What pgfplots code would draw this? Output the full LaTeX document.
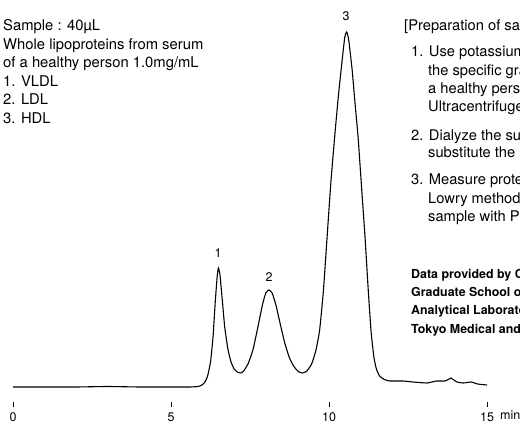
\documentclass[border=0pt]{standalone}
\usepackage{pgfplots}
\pgfplotsset{compat=1.18}
\usepackage{fontspec}
\setmainfont{TeX Gyre Heros}
\newcommand{\mainf}{\fontsize{14.8}{18}\selectfont}
\newcommand{\rightf}{\fontsize{14.7}{18}\selectfont}
\newcommand{\tickf}{\fontsize{12.5}{14}\selectfont}
\newcommand{\boldf}{\fontsize{12.4}{15}\selectfont\bfseries}
\begin{document}
\begin{tikzpicture}[x=1pt,y=1pt]
\useasboundingbox (0,0) rectangle (520,425);
\clip (0,0) rectangle (520,425);
\begin{axis}[at={(13pt,23pt)}, anchor=south west, scale only axis,
  width=474pt, height=375pt, xmin=0, xmax=15, ymin=-15, ymax=360,
  hide y axis, axis x line*=bottom, x axis line style={draw=none},
  xtick={0,5,10,15}, major tick length=5pt, tick align=outside,
  xtick style={black, line width=0.8pt},
  xticklabel style={font=\tickf, text=black, yshift=-2.5pt},
  /pgf/number format/assume math mode=true, clip=false]
\addplot[black, line width=1.1pt, smooth, tension=0.3] coordinates {
(0,0) (1,0) (2,0) (3,0.5) (4,0) (5,0) (5.6,0) (5.85,0.5) (5.95,1.5)
(6.05,4) (6.15,10) (6.25,25) (6.33,50) (6.4,85) (6.46,110) (6.5,119)
(6.55,112) (6.62,88) (6.7,60) (6.8,38) (6.9,25) (7.0,18) (7.1,15) (7.2,14)
(7.3,16) (7.45,24) (7.6,38) (7.75,60) (7.9,83) (8.0,94) (8.1,97) (8.2,94)
(8.32,82) (8.45,64) (8.6,44) (8.75,29) (8.9,20) (9.05,15) (9.17,14)
(9.3,16) (9.45,23) (9.58,36) (9.7,56) (9.82,95) (9.94,150) (10.06,205)
(10.19,254) (10.3,292) (10.41,325) (10.5,350) (10.56,355) (10.62,348)
(10.73,318) (10.82,285) (10.92,250) (11.03,200) (11.14,150) (11.24,98)
(11.33,56) (11.42,30) (11.5,18) (11.6,11) (11.75,7.5) (11.93,6) (12.15,6)
(12.34,6) (12.66,5) (13.1,4) (13.4,6) (13.67,6) (13.8,8) (13.86,9)
(13.95,7) (14.05,5) (14.25,4) (14.5,5) (14.7,3) (15.0,2)
};
\end{axis}
% min label
\node[anchor=base west, font=\tickf, inner sep=0] at (500,5) {min};
% peak labels
\node[anchor=base, font=\tickf, inner sep=0] at (218,167.7) {1};
\node[anchor=base, font=\tickf, inner sep=0] at (269,143) {2};
\node[anchor=base, font=\tickf, inner sep=0] at (346,404.7) {3};
% left block
\begin{scope}[every node/.style={anchor=base west, font=\mainf, inner sep=0}]
\node at (3,394) {Sample : 40µL};
\node at (3,375.5) {Whole lipoproteins from serum};
\node at (3,357) {of a healthy person 1.0mg/mL};
\node at (3,338.5) {1. VLDL};
\node at (3,320) {2. LDL};
\node at (3,301.5) {3. HDL};
\end{scope}
% right block
\begin{scope}[every node/.style={anchor=base west, font=\rightf, inner sep=0}]
\node at (404,394.5) {[Preparation of samples]};
\node at (411,368) {1. Use potassium bromide to adjust};
\node at (428,349.5) {the specific gravity of serum from};
\node at (428,331) {a healthy person to 1.21, and then};
\node at (428,313) {Ultracentrifuge it to collect lipoproteins.};
\node at (411,284.5) {2. Dialyze the supernatant to};
\node at (428,267) {substitute the solvent with PBS.};
\node at (411,240.5) {3. Measure protein content by the};
\node at (428,221.5) {Lowry method and dilute the};
\node at (428,203) {sample with PBS to 1.0mg/mL.};
\end{scope}
\begin{scope}[every node/.style={anchor=base west, font=\boldf, inner sep=0}]
\node at (411,146.7) {Data provided by Center for};
\node at (411,128.3) {Graduate School of Medicine,};
\node at (411,110) {Analytical Laboratory of};
\node at (411,91.7) {Tokyo Medical and Dental University};
\end{scope}
\end{tikzpicture}
\end{document}
